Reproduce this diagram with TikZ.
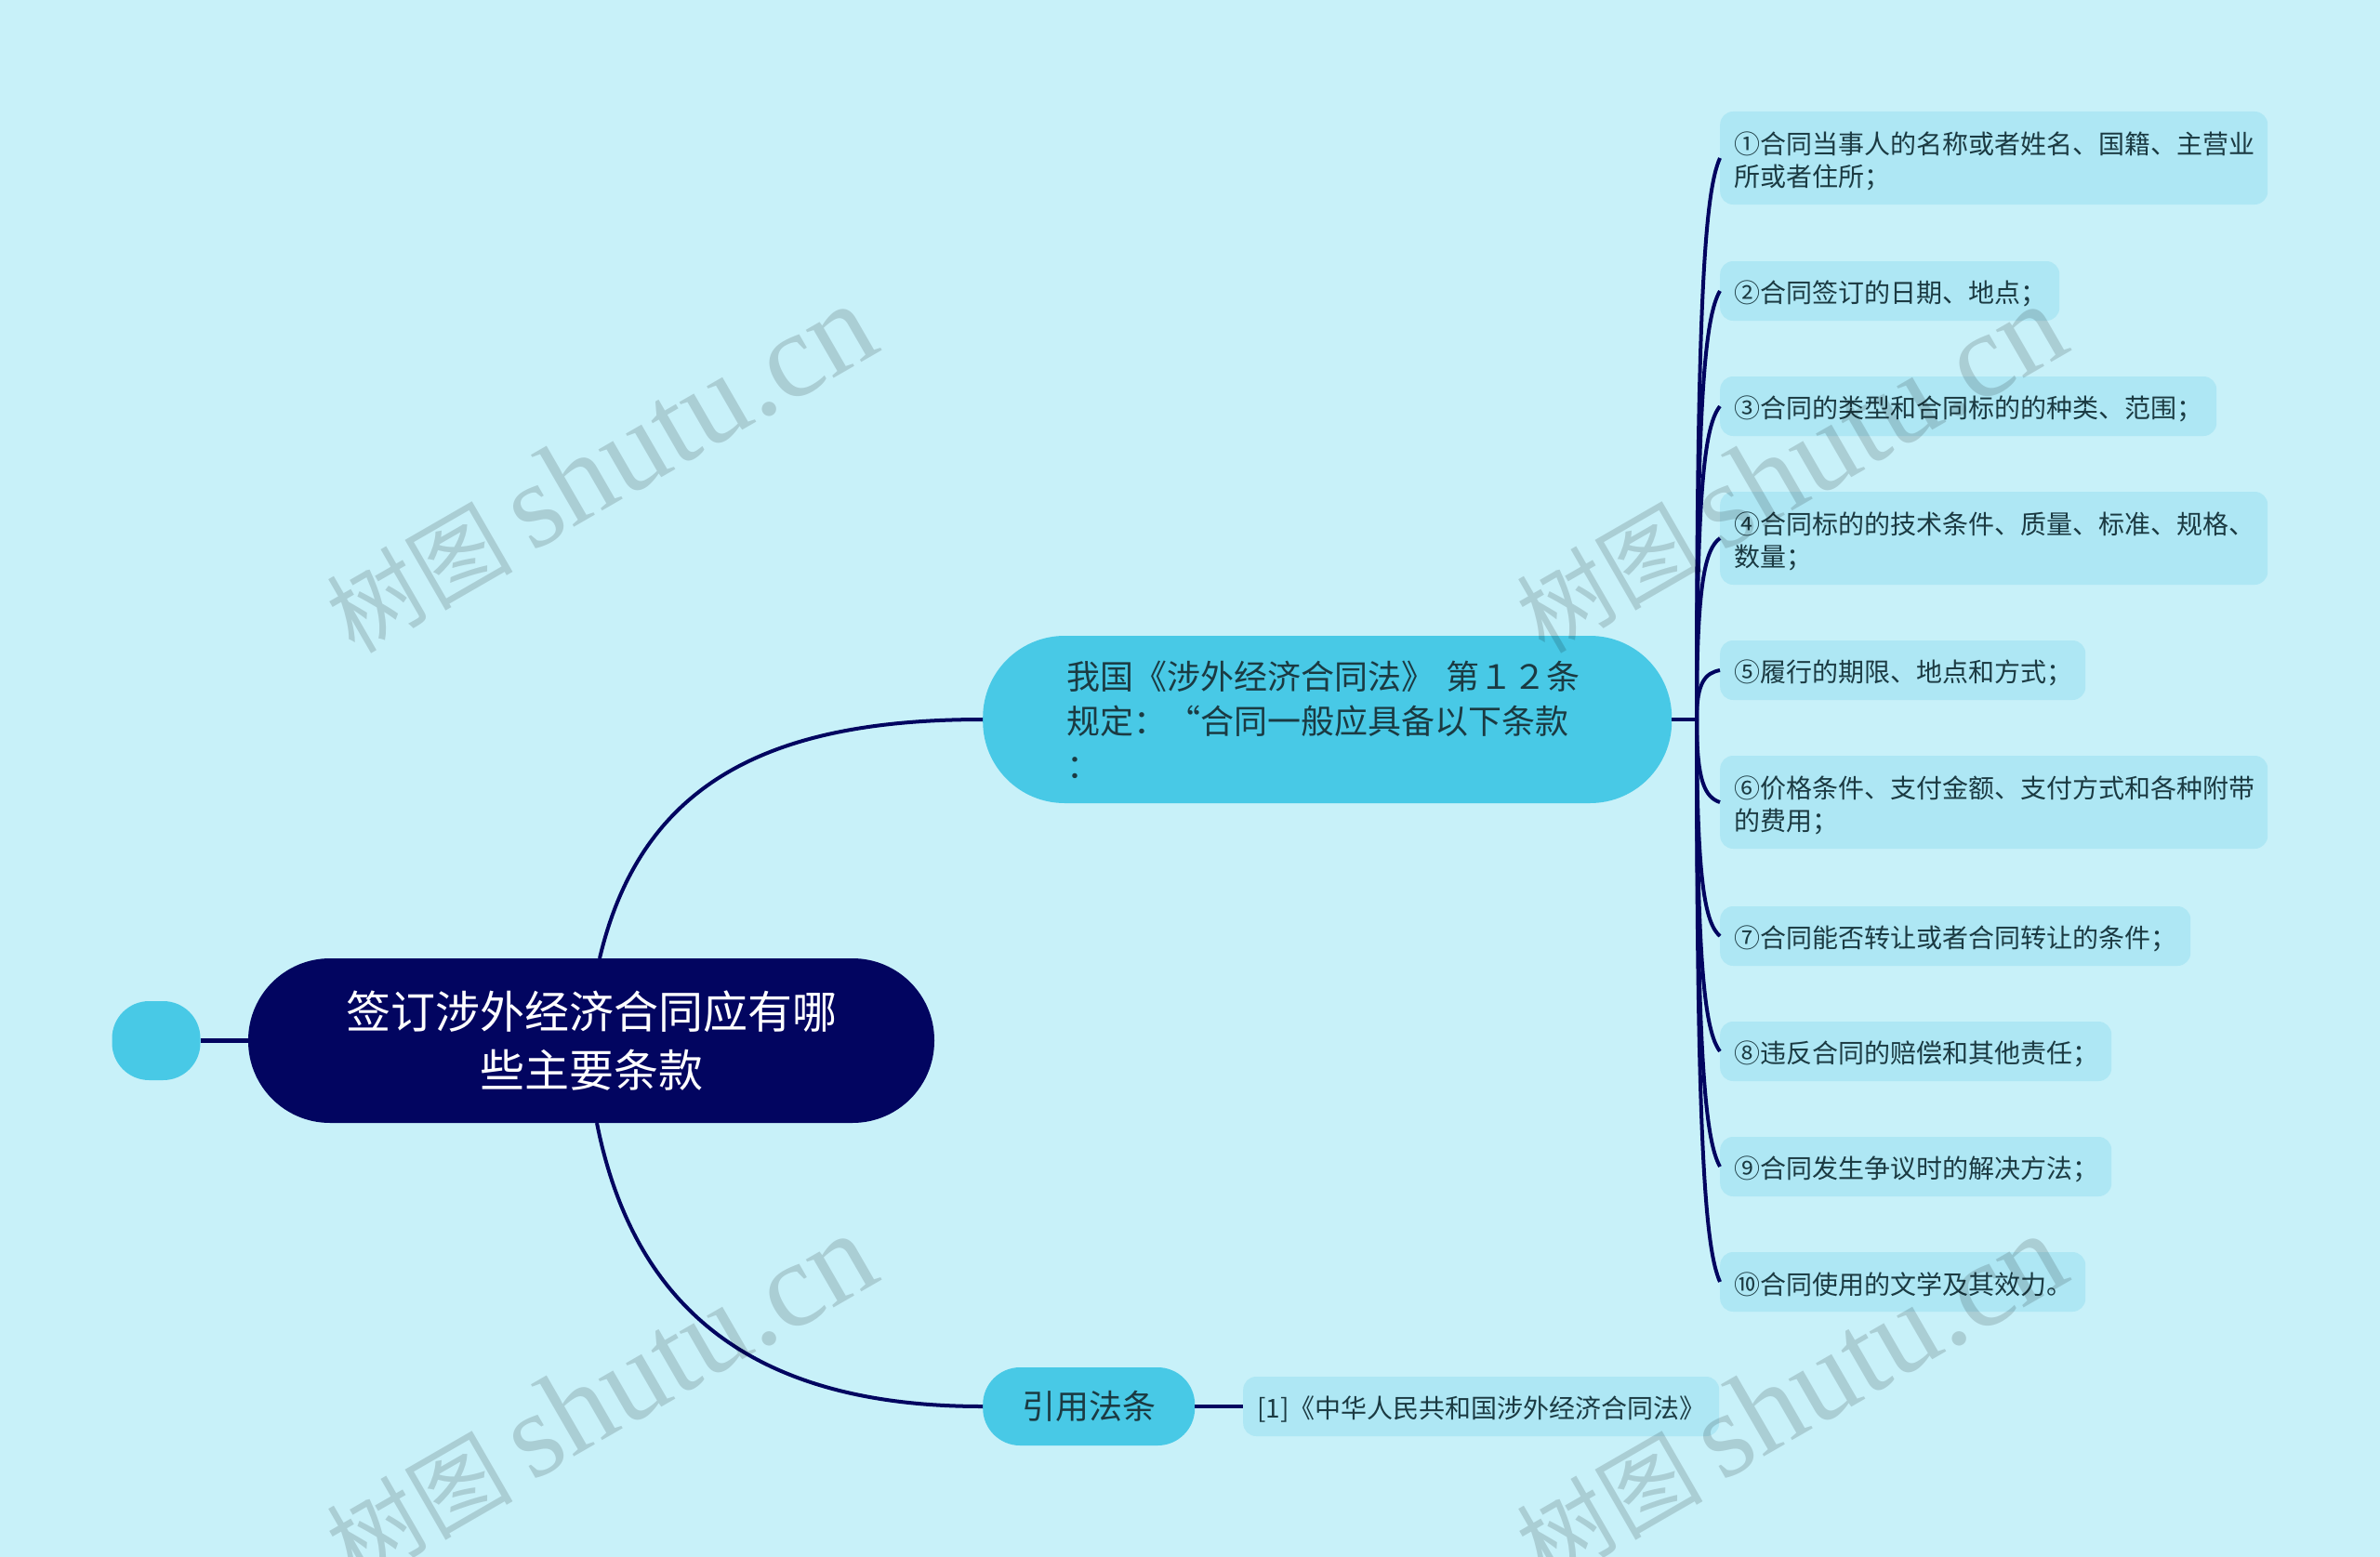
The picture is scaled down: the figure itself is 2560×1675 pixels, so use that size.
\documentclass[tikz,border=0pt]{standalone}
\usepackage{fontspec}
\usetikzlibrary{calc}
\setmainfont{Noto Sans CJK SC}
\newfontfamily\wmlatin{Liberation Serif}
\definecolor{bgc}{HTML}{C8F1F9}
\definecolor{leafc}{HTML}{AEE7F4}
\definecolor{midc}{HTML}{48C9E6}
\definecolor{navy}{HTML}{020560}
\definecolor{inkc}{HTML}{1B3A42}
\tikzset{
  leaf/.style={fill=leafc,rounded corners=14pt,anchor=west,minimum height=64pt,inner xsep=15pt,inner ysep=0pt,
    align=left,text=inkc,font=\fontsize{28}{35}\selectfont,execute at begin node={\rule{0pt}{30pt}}},
  twoline/.style={minimum height=100pt},
  mid/.style={fill=midc,anchor=west,inner ysep=0pt,text=inkc,font=\fontsize{36}{48}\selectfont},
  rootbox/.style={fill=navy,rounded corners=88pt,minimum width=738pt,minimum height=177pt,inner sep=0pt,align=center,
    text=white,font=\fontsize{48}{63}\selectfont},
  link/.style={draw=navy,line width=4pt},
  stub/.style={draw=navy,line width=4.5pt},
  wm/.style={rotate=30,anchor=base,text=black,text opacity=0.145,inner sep=0pt}
}
\newcommand{\wmtext}{{\fontsize{100}{100}\selectfont 树图}\hspace{20pt}{\fontsize{130}{130}\wmlatin\selectfont shutu.cn}}
\newcommand{\leaflink}[1]{\draw[link] (trunk) .. controls ($(trunk)!0.75!(trunk|-#1.west)$) and ($(#1.west)!0.06!(#1.west|-trunk)+(-16,0)$) .. (#1.west);}
\begin{document}
\begin{tikzpicture}[x=1pt,y=-1pt]
\fill[bgc] (0,0) rectangle (2560,1675);
\useasboundingbox (0,0) rectangle (2560,1675);
\node[rootbox] (root) at (636,1119.5) {签订涉外经济合同应有哪\\些主要条款};
\node[fill=midc,rounded corners=40pt,minimum width=95pt,minimum height=85pt,inner sep=0pt] (dot) at (168,1119.5) {};
\node[mid,rounded corners=88pt,minimum height=180pt,inner xsep=90pt,text width=561pt,align=left] (b1) at (1057,774)
  {我国《涉外经济合同法》\hspace{12pt}第１２条\\规定：“合同一般应具备以下条款\\：};
\node[mid,rounded corners=40pt,minimum width=228pt,minimum height=84pt,inner sep=0pt,align=center] (b2) at (1057,1513) {引用法条};
\node[leaf,twoline,text width=559pt] (l1) at (1850,170) {①合同当事人的名称或者姓名、国籍、主营业\\所或者住所；};
\node[leaf,text width=335pt] (l2) at (1850,313) {②合同签订的日期、地点；};
\node[leaf,text width=504pt] (l3) at (1850,437) {③合同的类型和合同标的的种类、范围；};
\node[leaf,twoline,text width=559pt] (l4) at (1850,579) {④合同标的的技术条件、质量、标准、规格、\\数量；};
\node[leaf,text width=363pt] (l5) at (1850,721) {⑤履行的期限、地点和方式；};
\node[leaf,twoline,text width=559pt] (l6) at (1850,863) {⑥价格条件、支付金额、支付方式和各种附带\\的费用；};
\node[leaf,text width=476pt] (l7) at (1850,1007) {⑦合同能否转让或者合同转让的条件；};
\node[leaf,text width=391pt] (l8) at (1850,1131) {⑧违反合同的赔偿和其他责任；};
\node[leaf,text width=391pt] (l9) at (1850,1255) {⑨合同发生争议时的解决方法；};
\node[leaf,text width=363pt] (l10) at (1850,1379) {⑩合同使用的文学及其效力。};
\node[leaf,text width=482pt] (ref) at (1337,1513) {[1]《中华人民共和国涉外经济合同法》};
\coordinate (trunk) at (1825,774);
\coordinate (upj) at (645,1031);
\coordinate (downj) at (642,1208);
\draw[stub] (dot.east) -- (root.west);
\draw[link] (upj) .. controls (690,840) and (830,774) .. (b1.west);
\draw[link] (downj) .. controls (685,1425) and (830,1513) .. (b2.west);
\draw[stub] (b1.east) -- (trunk);
\draw[stub] (b2.east) -- (ref.west);
\leaflink{l1}
\leaflink{l2}
\leaflink{l3}
\leaflink{l4}
\leaflink{l5}
\leaflink{l6}
\leaflink{l7}
\leaflink{l8}
\leaflink{l9}
\leaflink{l10}
\begin{scope}
\clip (0,0) rectangle (2560,1675);
\node[wm] (w1) at (666,540) {\wmtext};
\node[wm] (w2) at (1946,540) {\wmtext};
\node[wm] (w3) at (666,1540) {\wmtext};
\node[wm] (w4) at (1946,1540) {\wmtext};
\end{scope}
\end{tikzpicture}
\end{document}
